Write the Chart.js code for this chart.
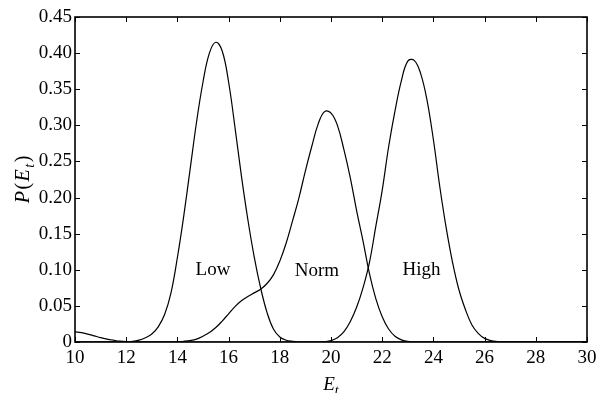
<!DOCTYPE html>
<html>
<head>
<meta charset="utf-8">
<script src="https://cdn.jsdelivr.net/npm/chart.js@4/dist/chart.umd.min.js"></script>
<style>
  html, body { margin: 0; padding: 0; background: #fff; }
  #wrap { width: 607px; height: 393px; }
</style>
</head>
<body>
<div id="wrap"><canvas id="chart"></canvas></div>
<script>
// E_t sample points (shared by all three curves)
const et = [
  10, 10.25, 10.5, 10.75, 11, 11.25, 11.5, 11.75, 12, 12.25, 12.5, 12.75,
  13, 13.25, 13.5, 13.75, 14, 14.25, 14.5, 14.75, 15, 15.25, 15.5, 15.75,
  16, 16.25, 16.5, 16.75, 17, 17.25, 17.5, 17.75, 18, 18.25, 18.5, 18.75,
  19, 19.25, 19.5, 19.75, 20, 20.25, 20.5, 20.75, 21, 21.25, 21.5, 21.75,
  22, 22.25, 22.5, 22.75, 23, 23.25, 23.5, 23.75, 24, 24.25, 24.5, 24.75,
  25, 25.25, 25.5, 25.75, 26, 26.25, 26.5, 26.75, 27, 27.25, 27.5, 27.75,
  28, 28.25, 28.5, 28.75, 29, 29.25, 29.5, 29.75, 30
];

const low = [
  0.014, 0.013, 0.011, 0.0085, 0.006, 0.004, 0.0025, 0.0012, 0.0006, 0.0008, 0.0025, 0.006,
  0.011, 0.021, 0.038, 0.068, 0.117, 0.175, 0.24, 0.305, 0.36, 0.4, 0.415, 0.403,
  0.36, 0.297, 0.23, 0.17, 0.118, 0.075, 0.041, 0.018, 0.007, 0.0025, 0.0008, 0,
  0, 0, 0, 0, 0, 0, 0, 0, 0, 0, 0, 0,
  0, 0, 0, 0, 0, 0, 0, 0, 0, 0, 0, 0,
  0, 0, 0, 0, 0, 0, 0, 0, 0, 0, 0, 0,
  0, 0, 0, 0, 0, 0, 0, 0, 0
];

const norm = [
  0, 0, 0, 0, 0, 0, 0, 0, 0, 0, 0, 0,
  0, 0, 0, 0, 0.0005, 0.001, 0.002, 0.004, 0.008, 0.013, 0.02, 0.029,
  0.039, 0.049, 0.057, 0.063, 0.068, 0.073, 0.081, 0.093, 0.112, 0.137, 0.168, 0.2,
  0.237, 0.271, 0.302, 0.319, 0.317, 0.3, 0.267, 0.228, 0.182, 0.14, 0.095, 0.06,
  0.035, 0.018, 0.008, 0.003, 0.001, 0, 0, 0, 0, 0, 0, 0,
  0, 0, 0, 0, 0, 0, 0, 0, 0, 0, 0, 0,
  0, 0, 0, 0, 0, 0, 0, 0, 0
];

const high = [
  0, 0, 0, 0, 0, 0, 0, 0, 0, 0, 0, 0,
  0, 0, 0, 0, 0, 0, 0, 0, 0, 0, 0, 0,
  0, 0, 0, 0, 0, 0, 0, 0, 0, 0, 0, 0,
  0, 0, 0, 0.0005, 0.002, 0.006, 0.014, 0.028, 0.048, 0.075, 0.11, 0.16,
  0.21, 0.27, 0.32, 0.362, 0.389, 0.39, 0.372, 0.335, 0.28, 0.215, 0.158, 0.11,
  0.072, 0.045, 0.024, 0.012, 0.005, 0.002, 0.0007, 0, 0, 0, 0, 0,
  0, 0, 0, 0, 0, 0, 0, 0, 0
];

// text labels placed next to each curve (data coordinates)
const curveNames = ["Low", "Norm", "High"];
const nameX = [15.39, 19.45, 23.54];
const nameY = [0.1, 0.098, 0.099];

const xTicks = [10, 12, 14, 16, 18, 20, 22, 24, 26, 28, 30];
const yTicks = [0, 0.05, 0.1, 0.15, 0.2, 0.25, 0.3, 0.35, 0.4, 0.45];

const SERIF = '"Liberation Serif", "Times New Roman", serif';

function pts(ys) {
  return et.map((x, i) => ({ x: x, y: ys[i] }));
}

// draws a run of [text, italic, subscript] pieces centred on cx
function drawPieces(ctx, pieces, cx, base, size, gap) {
  const fontOf = (p) =>
    (p[1] ? "italic " : "") + (p[2] ? Math.round(size * 0.72) : size) + "px " + SERIF;
  let w = 0;
  pieces.forEach((p) => {
    ctx.font = fontOf(p);
    w += ctx.measureText(p[0]).width + gap;
  });
  w -= gap;
  let x = cx - w / 2;
  ctx.textAlign = "left";
  ctx.textBaseline = "alphabetic";
  pieces.forEach((p) => {
    ctx.font = fontOf(p);
    ctx.fillText(p[0], x, base + (p[2] ? size * 0.25 : 0));
    x += ctx.measureText(p[0]).width + gap;
  });
}

const framePlugin = {
  id: "frame",
  afterDraw(chart) {
    const { ctx, chartArea: a, scales } = chart;
    const xs = scales.x, ys = scales.y;
    ctx.save();
    ctx.strokeStyle = "#000";
    ctx.fillStyle = "#000";

    // inward ticks on all four sides
    ctx.lineWidth = 1;
    ctx.beginPath();
    xTicks.forEach((v) => {
      const px = Math.round(xs.getPixelForValue(v)) + 0.5;
      ctx.moveTo(px, a.bottom); ctx.lineTo(px, a.bottom - 5);
      ctx.moveTo(px, a.top); ctx.lineTo(px, a.top + 5);
    });
    yTicks.forEach((v) => {
      const py = Math.round(ys.getPixelForValue(v)) + 0.5;
      ctx.moveTo(a.left, py); ctx.lineTo(a.left + 5, py);
      ctx.moveTo(a.right, py); ctx.lineTo(a.right - 5, py);
    });
    ctx.stroke();

    ctx.lineWidth = 1.6;
    ctx.strokeRect(a.left, a.top, a.right - a.left, a.bottom - a.top);

    // curve names
    ctx.font = "19px " + SERIF;
    ctx.textAlign = "center";
    ctx.textBaseline = "middle";
    curveNames.forEach((n, i) => {
      ctx.fillText(n, xs.getPixelForValue(nameX[i]), ys.getPixelForValue(nameY[i]));
    });

    // axis titles
    drawPieces(ctx, [["E", true, false], ["t", true, true]], (a.left + a.right) / 2, 390, 19, 0);
    ctx.translate(29, (a.top + a.bottom) / 2);
    ctx.rotate(-Math.PI / 2);
    drawPieces(ctx, [["P", true, false], ["(", false, false], ["E", true, false], ["t", true, true], [")", false, false]], 0, 0, 20, 1.5);
    ctx.restore();
  },
};

new Chart(document.getElementById("chart"), {
  type: "line",
  data: {
    datasets: [low, norm, high].map((ys) => ({
      data: pts(ys),
      borderColor: "#000",
      borderWidth: 1.2,
      pointRadius: 0,
      fill: false,
      tension: 0.4,
    })),
  },
  options: {
    responsive: true,
    maintainAspectRatio: false,
    animation: false,
    layout: { padding: { top: 17, right: 20, left: 0, bottom: 0 } },
    plugins: { legend: { display: false }, tooltip: { enabled: false } },
    scales: {
      x: {
        type: "linear",
        min: 10,
        max: 30,
        afterBuildTicks: (s) => { s.ticks = xTicks.map((v) => ({ value: v })); },
        afterFit: (s) => { s.height = 51; },
        grid: { display: false, drawTicks: false },
        border: { display: false },
        ticks: { color: "#000", padding: 5, maxRotation: 0, font: { family: SERIF, size: 19 } },
      },
      y: {
        min: 0,
        max: 0.45,
        afterBuildTicks: (s) => { s.ticks = yTicks.map((v) => ({ value: v })); },
        afterFit: (s) => { s.width = 75; },
        grid: { display: false, drawTicks: false },
        border: { display: false },
        ticks: {
          color: "#000",
          padding: 3,
          font: { family: SERIF, size: 19 },
          callback: (v) => (v === 0 ? "0" : v.toFixed(2)),
        },
      },
    },
  },
  plugins: [framePlugin],
});
</script>
</body>
</html>
